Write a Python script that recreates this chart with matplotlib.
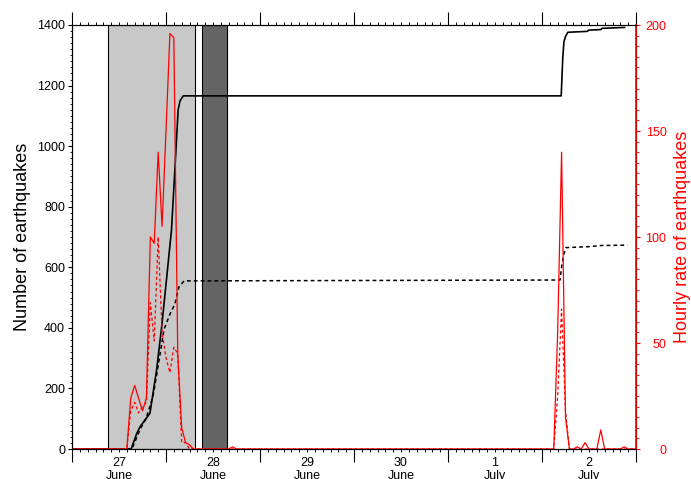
import matplotlib
matplotlib.use("Agg")
import matplotlib.pyplot as plt
import numpy as np

plt.rcParams['font.family'] = ['Liberation Sans', 'DejaVu Sans']

# time axis in hours from 27 June 00:00
day_labels = ['27\nJune', '28\nJune', '29\nJune', '30\nJune', '1\nJuly', '2\nJuly']

# shaded periods (hours)
light_span = [9.1, 31.4]
dark_span = [33.1, 39.5]

# hourly rate, all events (red solid)
rate_hours = [0, 14, 15, 16, 17, 18, 19, 20, 21, 22, 23, 24, 25, 26, 27, 28, 29, 30, 31,
              40, 41, 42, 123, 124, 125, 126, 127, 128, 129, 130, 131, 132,
              134, 135, 136, 140, 141, 142, 144]
rate_all = [0, 0, 24, 30, 24, 18, 24, 100, 97, 140, 105, 150, 196, 194, 45, 10, 3, 2, 0,
            0, 1, 0, 0, 55, 140, 15, 0, 0, 1, 0, 3, 0,
            0, 9, 0, 0, 1, 0, 0]

# hourly rate, subset (red dotted)
sub_hours = [0, 14, 15, 16, 17, 18, 19, 20, 21, 22, 23, 24, 25, 26, 27, 28, 29, 30,
             123, 124, 125, 126, 127, 144]
rate_sub = [0, 0, 18, 22, 17, 20, 22, 69, 51, 100, 55, 43, 36, 48, 45, 3, 3, 0,
            0, 25, 66, 18, 0, 0]

# cumulative number, all events (black solid)
cum_hours = [0, 15.1, 16.5, 17.4, 19.9, 21.6, 22.9, 24.2, 25.4, 26.3, 27.1, 27.6, 28.4,
             124.9, 125.3, 125.6, 126.0, 126.6, 131.6, 131.9, 135.1, 135.3, 141.1]
cum_all = [0, 0, 50, 74, 118, 261, 404, 569, 723, 930, 1120, 1150, 1166,
           1166, 1290, 1345, 1362, 1376, 1379, 1383, 1385, 1389, 1392]

# cumulative number, subset (black dotted)
cum_sub_hours = [0, 15.3, 17.4, 18.9, 20.7, 22.2, 23.5, 25.0, 26.3, 27.3, 28.6,
                 124.6, 125.0, 125.5, 126.1, 131.8, 135.2, 141.8]
cum_sub = [0, 0, 65, 100, 175, 290, 395, 445, 480, 535, 555,
           558, 600, 640, 665, 668, 672, 673]

fig = plt.figure(figsize=(6.91, 4.79), dpi=100)
ax = fig.add_axes([72 / 691, 1 - 449 / 479, 564 / 691, 424 / 479])

ax.axvspan(light_span[0], light_span[1], facecolor='#c8c8c8', edgecolor='black', linewidth=0.8, zorder=0)
ax.axvspan(dark_span[0], dark_span[1], facecolor='#646464', edgecolor='black', linewidth=0.8, zorder=0)

ax.plot(cum_hours, cum_all, color='black', linewidth=1.2)
ax.plot(cum_sub_hours, cum_sub, color='black', linewidth=1.1, linestyle=(0, (2.5, 2)))

ax.set_xlim(0, 144)
ax.set_ylim(0, 1400)
ax.set_yticks(np.arange(0, 1401, 200))
ax.set_yticks(np.arange(0, 1401, 20), minor=True)

ax.set_xticks(np.arange(0, 145, 24))
ax.set_xticklabels([])
minor_pos = np.arange(0, 145, 2)
minor_lab = []
for p in minor_pos:
    if p % 24 == 12:
        minor_lab.append(day_labels[int(p // 24)])
    else:
        minor_lab.append('')
ax.set_xticks(minor_pos, minor=True)
ax.set_xticklabels(minor_lab, minor=True, linespacing=1.1)

ax.tick_params(axis='x', which='major', direction='out', top=True, length=9.5, width=0.8)
ax.tick_params(axis='x', which='minor', direction='out', top=True, length=2.2, width=0.7,
               labelsize=9, pad=3.5)
ax.tick_params(axis='y', which='major', direction='out', length=3, width=0.8, labelsize=9, pad=2)
ax.tick_params(axis='y', which='minor', direction='out', length=1.8, width=0.6)

ax.set_ylabel('Number of earthquakes', fontsize=13, va='center')
ax.yaxis.set_label_coords(-0.088, 0.5)

ax2 = ax.twinx()
ax2.plot(rate_hours, rate_all, color='red', linewidth=0.9)
ax2.plot(sub_hours, rate_sub, color='red', linewidth=0.9, linestyle=(0, (2.5, 2)))
ax2.set_ylim(0, 200)
ax2.set_yticks(np.arange(0, 201, 50))
ax2.set_yticks(np.arange(0, 201, 5), minor=True)
ax2.tick_params(axis='y', which='major', colors='red', direction='out', length=3, width=0.8,
                labelsize=9, pad=19)
ax2.tick_params(axis='y', which='minor', colors='red', direction='out', length=2.2, width=0.6)
for lab in ax2.get_yticklabels():
    lab.set_horizontalalignment('right')
ax2.spines['right'].set_color('red')
ax2.spines['right'].set_linewidth(1.2)
ax2.set_ylabel('Hourly rate of earthquakes', fontsize=13, color='red', va='center')
ax2.yaxis.set_label_coords(1.083, 0.5)

fig.savefig('out.png', dpi=100)
